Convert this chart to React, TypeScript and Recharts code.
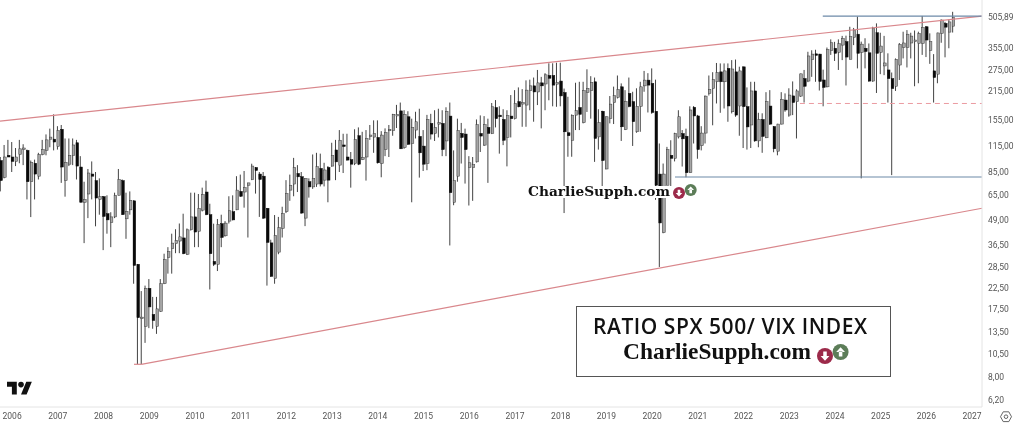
import { Bar, ComposedChart, ReferenceLine, XAxis, YAxis } from "recharts"

const opens = [
  97, 80, 103, 101, 96, 104, 110, 109, 76, 94,
  81, 104, 109, 124, 124, 114, 139, 77, 93, 103,
  119, 90, 60, 66, 83, 77, 62, 64, 52.6, 47.5,
  50.7, 65, 77, 49.6, 55, 61, 29.4, 15.8, 14.4, 22.3,
  16.5, 14.4, 17.1, 23.5, 31.8, 35.2, 37.3, 38.4, 39.8, 33,
  43.9, 50.7, 43, 54.8, 67.5, 52, 30.4, 29.4, 46.9, 40.8,
  48.3, 53.8, 55, 68, 67.5, 73, 78, 89.5, 83, 81,
  56, 37.6, 25, 33.8, 44.4, 53.8, 69, 74, 83.6, 80.5,
  50, 76, 71.6, 74, 88.6, 77.4, 89.6, 91, 109.5, 92,
  116, 101, 98, 93.7, 129, 98, 101, 129, 127, 126.5,
  93.7, 110, 137, 137, 162, 171.7, 112.5, 160.5, 118, 137.7,
  128, 114.5, 93.7, 148.7, 132.5, 148, 148.7, 121.5, 161.7, 60,
  81, 132.5, 131.5, 89.5, 89.5, 95.5, 132.5, 115.8, 142, 132.5,
  178.4, 163.5, 155.6, 126.5, 161.7, 157, 191, 187, 183.6, 216.7,
  229, 213.5, 237, 234, 258, 258, 233.5, 242, 212, 133.5,
  122.5, 163.5, 178.5, 149.8, 212, 216.7, 240, 127.3, 171, 88,
  157, 188.7, 200.6, 226.5, 138.7, 210, 191, 135, 181, 229,
  244.6, 235.6, 171, 83, 42.3, 73, 103, 99.5, 127.3, 132.3,
  128.3, 84.3, 179, 162, 115, 133, 210, 222, 240, 269,
  240, 280, 170, 269, 181.7, 285, 180.3, 146, 216, 121.6,
  155.6, 126, 181.5, 143.5, 108, 147.5, 194.5, 163.6, 204, 190.8,
  203.5, 249, 242, 310, 331, 330, 245, 226.5, 344, 353,
  337, 366, 381, 311, 400, 415, 337, 353, 335, 242,
  422, 337, 288, 275, 249, 228, 291, 356, 356, 375,
  381, 373, 373, 452, 344, 272, 262, 419, 470, 425,
  455,
]

const highs = [
  101, 116, 123, 120, 112, 123, 117, 110, 97, 98,
  106, 123, 131, 140, 165, 144, 146, 125, 125, 125,
  123, 102, 76, 88, 96, 85, 79, 64.5, 65, 53.5,
  67, 88, 78, 67, 68, 61.4, 29.5, 21.6, 23, 24.8,
  20.2, 20.2, 24.8, 33.2, 35.8, 41.8, 44, 47, 52.6, 44.4,
  67, 67, 66, 71, 77, 59, 46.9, 49.5, 52, 48.3,
  64.3, 65, 81, 82.5, 86, 75, 93.5, 90, 85, 85,
  56.2, 39, 51.8, 50.7, 57, 77.4, 82.5, 100, 92, 85,
  79, 79, 104, 106, 105, 94.5, 91, 119, 123, 137.7,
  132, 132, 107, 139, 142, 135, 137.7, 146, 154, 154,
  136, 140.4, 146, 166, 184, 189, 173, 171, 157, 170,
  176, 137.7, 164, 166, 173, 176, 173, 179, 189, 109,
  157, 149.5, 140, 102, 101, 155.6, 163, 161.7, 157, 188,
  194.5, 181, 175, 173, 206, 218, 225, 220.6, 244, 246,
  252, 275, 254, 265, 297, 297, 299, 299, 222, 202,
  165, 237.4, 240, 240, 277, 256, 252, 175, 172, 161,
  203.7, 227, 258, 235.6, 218, 252, 214, 222.7, 240, 272,
  265, 280, 246, 118, 93.7, 113.5, 122.5, 133.5, 173, 137.7,
  140, 181, 181.5, 164, 144, 205, 258, 268, 298, 296.5,
  296.5, 296.5, 308, 310, 285.5, 286, 225, 240, 240, 168,
  167, 213, 218, 144, 148, 213, 210, 222.7, 241, 220,
  263.6, 275, 339, 345, 347, 331, 276, 356, 391, 380,
  391, 407, 408, 452, 446, 508, 381, 396, 373, 452,
  470, 422, 407, 333, 267, 314, 375, 427, 435, 422,
  433, 427, 512, 456, 419, 330, 422, 492, 478, 492,
  537,
]

const lows = [
  68, 79, 101, 85, 91, 94, 92, 62, 50.6, 62,
  78, 103, 103, 113, 109, 110, 75, 64, 91, 92,
  78, 60, 37.5, 50, 62, 45.5, 52, 34.6, 41.8, 35.8,
  50, 65, 52, 39.4, 52, 23.5, 9.3, 9.3, 11.9, 14.1,
  14, 13.2, 17, 23.4, 26.4, 26.4, 33.4, 33.4, 33, 32.7,
  43.3, 35.8, 35.8, 54, 51.7, 22, 28.8, 27.2, 35.8, 40.4,
  47, 48.7, 54.8, 63.8, 56.4, 40, 77.4, 66.3, 50.7, 49.5,
  23, 25.4, 23.5, 33, 40, 53, 61, 64.3, 67.5, 52.6,
  45.6, 63.3, 70, 71.6, 72, 72, 60, 90.3, 77.4, 85,
  84, 97, 71, 92, 92, 97.5, 77, 123, 106, 93.7,
  80, 102, 101, 129, 141, 111, 111, 116, 60, 125,
  79.7, 86, 86.8, 123.5, 121.5, 126.5, 102, 102, 36.5, 58,
  76, 93.7, 74.4, 57.8, 61, 94.8, 107, 114.7, 75, 131.5,
  142, 105, 115.8, 90.7, 126.5, 155.6, 179, 143, 143, 173,
  151.6, 183.6, 140.4, 173, 194, 181, 180, 181, 53, 101.3,
  101.3, 137.7, 137.7, 148.7, 169.6, 157, 95.5, 110, 72, 87.7,
  148.7, 147.6, 198, 121.5, 137.7, 179, 114.7, 133.5, 135, 214,
  168.6, 166, 61.7, 28.5, 42, 73, 71, 96, 125, 90.5,
  80, 84, 118, 99, 109, 118, 205, 145.5, 187, 168,
  176.5, 151.5, 166.8, 160.4, 129, 112, 110, 112, 120.4, 113,
  106, 125.5, 146, 106.7, 103, 147, 170, 160.5, 163.6, 125,
  201.5, 189, 239, 254, 240, 217, 181, 225, 327, 305,
  275, 308, 230, 311, 366, 280, 79, 280, 240, 240,
  211, 262, 259, 189, 82, 216, 245, 314, 283, 314,
  228, 236, 327, 319, 295, 189, 236, 376, 318, 353,
  423,
]

const closes = [
  77, 101, 101, 96, 101, 111, 112, 76, 95, 83,
  104, 110, 123, 127, 120, 137, 90, 95, 103, 116,
  91, 60, 62, 84, 81, 63, 64, 51, 49, 50.7,
  65, 78, 52, 54, 61.4, 29, 15.9, 16, 22.3, 18,
  15.4, 17.6, 23.5, 31, 34, 37.5, 38.7, 40.3, 33.2, 43.7,
  50.7, 42.6, 55.9, 65.5, 52, 33.2, 29.4, 46.5, 40, 47.2,
  54.4, 49, 69, 64.3, 71, 75, 91, 86.5, 78, 50,
  37.8, 25.6, 41, 44.8, 52.6, 66.3, 73, 89.6, 80.4, 53,
  78.9, 71.6, 79, 90.3, 74, 87, 77.4, 102.6, 95.5, 122.5,
  114, 97.5, 93, 123.5, 93, 100.5, 125, 130, 132.5, 94.5,
  130, 134, 139, 165, 165, 111, 165, 117, 142, 151.5,
  106, 93, 155.6, 131.5, 142, 150, 110, 171, 67, 77,
  137, 126.5, 110, 94.5, 92.5, 146.5, 128.5, 146.5, 132.5, 180,
  157, 160.5, 122.5, 162.7, 157, 187, 180, 189, 218, 229,
  213.5, 237, 229, 260, 250, 231, 238, 204, 135, 129,
  163, 172, 165, 216.7, 222.7, 238, 125, 150, 97, 160.5,
  185.6, 204.6, 219.7, 143, 191, 180.7, 151.6, 181, 226.5, 244.6,
  231, 168.6, 73, 47.3, 83, 110, 99.5, 132.5, 160.5, 124.5,
  84.3, 173.5, 162, 110, 133, 203.5, 220, 246.5, 267, 240,
  272, 181.7, 278, 163.6, 272, 180.3, 142.8, 216, 121.6, 155.6,
  128, 190.8, 147.5, 111, 147.5, 196, 173.5, 206, 189, 216,
  263, 228, 323, 330, 327, 241, 225, 348, 376, 333,
  372, 395, 319, 403, 435, 333, 370, 340, 242, 445,
  333, 362, 298, 249, 222, 311, 369, 375, 415, 406,
  388, 419, 448, 388, 381, 252, 421, 488, 450, 478,
  503,
]

// month index of each January label on the time axis, first candle is Oct 2005
const yearTicks = [3, 15, 27, 39, 51, 63, 75, 87, 99, 111, 123, 135, 147, 159, 171, 183, 195, 207, 219, 231, 243, 255]
const yearLabels = ["2006", "2007", "2008", "2009", "2010", "2011", "2012", "2013", "2014", "2015", "2016", "2017", "2018", "2019", "2020", "2021", "2022", "2023", "2024", "2025", "2026", "2027"]
const priceTicks = [505.89, 355, 275, 215, 155, 115, 85, 65, 49, 36.5, 28.5, 22.5, 17.5, 13.5, 10.5, 8, 6.2]

const xDomain = [-0.18, 257.6]

const data = opens.map((open, i) => ({
  month: i,
  open,
  close: closes[i],
  wick: [lows[i], highs[i]],
  body: [Math.min(open, closes[i]), Math.max(open, closes[i])],
}))

const WickShape = (props: any) => (
  <rect x={props.x} y={props.y} width={props.width} height={props.height} fill="#444" />
)

const BodyShape = (props: any) => {
  const up = props.payload.close >= props.payload.open
  return (
    <rect
      x={props.x}
      y={props.y}
      width={props.width}
      height={Math.max(props.height, 1.5)}
      fill={up ? "#a6a6a6" : "#0a0a0a"}
      stroke={up ? "#3a3a3a" : "#0a0a0a"}
      strokeWidth={0.5}
    />
  )
}

const Icons = ({ x, y, r }: { x: number; y: number; r: number }) => (
  <g>
    <circle cx={x} cy={y} r={r} fill="#9c2a4a" />
    <path
      d={`M${x - r * 0.55} ${y} h${r * 1.1} l${-r * 0.55} ${r * 0.6} z M${x - r * 0.22} ${y - r * 0.55} h${r * 0.44} v${r * 0.6} h${-r * 0.44} z`}
      fill="#fff"
    />
    <circle cx={x + r * 1.95} cy={y - r * 0.5} r={r} fill="#5c7d58" />
    <path
      d={`M${x + r * 1.4} ${y - r * 0.5} h${r * 1.1} l${-r * 0.55} ${-r * 0.6} z M${x + r * 1.73} ${y - r * 0.55} h${r * 0.44} v${r * 0.6} h${-r * 0.44} z`}
      fill="#fff"
    />
  </g>
)

export default function App() {
  return (
    <div style={{ position: "absolute", left: 0, top: 0, width: 1024, height: 427, background: "#fff", filter: "blur(0.3px)" }}>
      <ComposedChart width={1024} height={427} data={data} margin={{ top: 0, right: 0, bottom: 0, left: 0 }}>
        <XAxis
          dataKey="month"
          type="number"
          domain={xDomain}
          allowDataOverflow
          ticks={yearTicks}
          interval={0}
          height={20}
          tickLine={false}
          axisLine={{ stroke: "#e4e4e4" }}
          tick={{ fill: "#555", fontSize: 8.5, fontFamily: "Roboto" }}
          tickMargin={0}
          tickFormatter={(m: number) => yearLabels[yearTicks.indexOf(m)]}
        />
        <XAxis xAxisId="bodies" dataKey="month" type="number" domain={xDomain} allowDataOverflow hide />
        <YAxis
          orientation="right"
          width={42}
          scale="log"
          domain={[5.69, 615]}
          allowDataOverflow
          ticks={priceTicks}
          interval={0}
          tickLine={false}
          axisLine={{ stroke: "#e4e4e4" }}
          tick={{ fill: "#555", fontSize: 8.5, fontFamily: "Roboto" }}
          tickMargin={0}
          tickFormatter={(v: number) => v.toFixed(2).replace(".", ",")}
        />
        <Bar dataKey="wick" barSize={1} shape={WickShape} isAnimationActive={false} />
        <Bar dataKey="body" xAxisId="bodies" barSize={2.6} shape={BodyShape} isAnimationActive={false} />
        <ReferenceLine
          segment={[{ x: xDomain[0], y: 152.6 }, { x: xDomain[1], y: 511 }]}
          stroke="#d9878c"
          strokeWidth={1.2}
          ifOverflow="visible"
        />
        <ReferenceLine
          segment={[{ x: 35, y: 9.3 }, { x: 36.9, y: 9.3 }]}
          stroke="#d9878c"
          strokeWidth={1.2}
          ifOverflow="visible"
        />
        <ReferenceLine
          segment={[{ x: 36.9, y: 9.3 }, { x: xDomain[1], y: 56 }]}
          stroke="#d9878c"
          strokeWidth={1.2}
          ifOverflow="visible"
        />
        <ReferenceLine
          segment={[{ x: 215.8, y: 511 }, { x: xDomain[1], y: 511 }]}
          stroke="#6d8aa8"
          strokeWidth={1.1}
          ifOverflow="visible"
        />
        <ReferenceLine
          segment={[{ x: 177, y: 80.3 }, { x: xDomain[1], y: 80.3 }]}
          stroke="#6d8aa8"
          strokeWidth={1.1}
          ifOverflow="visible"
        />
        <ReferenceLine
          segment={[{ x: 209.8, y: 187 }, { x: xDomain[1], y: 187 }]}
          stroke="#eb9ba1"
          strokeWidth={1}
          strokeDasharray="5 4"
          ifOverflow="visible"
        />
      </ComposedChart>
      <svg width={1024} height={427} style={{ position: "absolute", left: 0, top: 0, pointerEvents: "none" }}>
        <rect x={528} y={186} width={170} height={12} fill="#fff" />
        <text x={528} y={196} fontFamily="DejaVu Serif" fontWeight="bold" fontSize={12} fill="#111" textLength={142} lengthAdjust="spacingAndGlyphs">
          CharlieSupph.com
        </text>
        <Icons x={679} y={193} r={6} />
        <rect x={576.5} y={306.5} width={314} height={70} fill="#fff" stroke="#555" strokeWidth={1} />
        <text x={593} y={334} fontFamily="Open Sans" fontWeight={600} fontSize={21} fill="#111" textLength={274}>
          RATIO SPX 500/ VIX INDEX
        </text>
        <text x={623} y={359} fontFamily="Liberation Serif" fontWeight="bold" fontSize={23} fill="#111" textLength={188} lengthAdjust="spacingAndGlyphs">
          CharlieSupph.com
        </text>
        <Icons x={825} y={356} r={8} />
        <g transform="translate(7 379) scale(0.7)" fill="#111">
          <path d="M14 22H7V11H0V4h14v18zM28 22h-8l7.5-18h8L28 22z" />
          <circle cx={20} cy={8} r={4} />
        </g>
        <path
          d="M1000.5 416.7 L1003.2 411.8 H1008.8 L1011.5 416.7 L1008.8 421.6 H1003.2 Z"
          fill="none"
          stroke="#555"
          strokeWidth={0.9}
        />
        <circle cx={1006} cy={416.7} r={1.8} fill="none" stroke="#555" strokeWidth={0.9} />
      </svg>
    </div>
  )
}
